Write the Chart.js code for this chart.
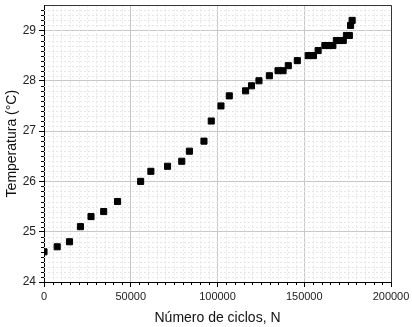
<!DOCTYPE html>
<html>
<head>
<meta charset="utf-8">
<script src="https://cdn.jsdelivr.net/npm/chart.js@4/dist/chart.umd.min.js"></script>
<style>
  html, body { margin: 0; padding: 0; background: #fff; }
</style>
</head>
<body>
<canvas id="chart" width="412" height="327"></canvas>
<script>
// cycles (N) and temperature (°C)
const cycles = [0, 7600, 14700, 21000, 27100, 34400, 42400, 55700, 61600, 71200,
  79400, 83800, 92200, 96400, 102000, 106800, 116200, 119600, 123900, 129900,
  134900, 137800, 140800, 146000, 152300, 155300, 158000, 161900, 164200, 166500,
  168500, 170500, 172500, 174300, 176000, 176700, 177600];
const temps = [24.6, 24.7, 24.8, 25.1, 25.3, 25.4, 25.6, 26.0, 26.2, 26.3,
  26.4, 26.6, 26.8, 27.2, 27.5, 27.7, 27.8, 27.9, 28.0, 28.1,
  28.2, 28.2, 28.3, 28.4, 28.5, 28.5, 28.6, 28.7, 28.7, 28.7,
  28.8, 28.8, 28.8, 28.9, 28.9, 29.1, 29.2];

const xRange = [0, 200000];
const yRange = [24, 29.5];
const xMajor = 50000, xMinor = 5000;
const yMajor = 1, yMinor = 0.1;

const FONT = 'Arial, "Liberation Sans", sans-serif';

/*
 * minor grid (dashed), minor ticks and the box around the plot
 */
const minorGrid = {
  id: 'minorGrid',
  beforeDatasetsDraw(chart) {
    const { ctx, chartArea: a, scales: { x, y } } = chart;
    ctx.save();
    ctx.strokeStyle = '#e6e6e6';
    ctx.lineWidth = 1;
    ctx.setLineDash([2, 2]);
    ctx.beginPath();
    const nx = Math.round((x.max - x.min) / xMinor);
    for (let i = 1; i < nx; i++) {
      if (i % (xMajor / xMinor) === 0) continue;
      const px = Math.round(x.getPixelForValue(x.min + i * xMinor)) + 0.5;
      ctx.moveTo(px, a.top);
      ctx.lineTo(px, a.bottom);
    }
    const ny = Math.round((y.max - y.min) / yMinor);
    for (let i = 1; i < ny; i++) {
      if (i % Math.round(yMajor / yMinor) === 0) continue;
      const py = Math.round(y.getPixelForValue(y.min + i * yMinor)) + 0.5;
      ctx.moveTo(a.left, py);
      ctx.lineTo(a.right, py);
    }
    ctx.stroke();
    ctx.restore();
  },
  afterDraw(chart) {
    const { ctx, chartArea: a, scales: { x, y } } = chart;
    ctx.save();
    ctx.strokeStyle = '#000';
    ctx.lineWidth = 1;
    ctx.beginPath();
    const nx = Math.round((x.max - x.min) / xMinor);
    for (let i = 1; i < nx; i++) {
      if (i % (xMajor / xMinor) === 0) continue;
      const px = Math.round(x.getPixelForValue(x.min + i * xMinor)) + 0.5;
      ctx.moveTo(px, a.bottom);
      ctx.lineTo(px, a.bottom + 3);
    }
    const ny = Math.round((y.max - y.min) / yMinor);
    for (let i = 1; i < ny; i++) {
      if (i % Math.round(yMajor / yMinor) === 0) continue;
      const py = Math.round(y.getPixelForValue(y.min + i * yMinor)) + 0.5;
      ctx.moveTo(a.left - 3, py);
      ctx.lineTo(a.left, py);
    }
    ctx.stroke();
    // top and right edges of the frame
    ctx.strokeStyle = '#333';
    ctx.beginPath();
    ctx.moveTo(Math.round(a.left) + 0.5, Math.round(a.top) + 0.5);
    ctx.lineTo(Math.round(a.right) + 0.5, Math.round(a.top) + 0.5);
    ctx.lineTo(Math.round(a.right) + 0.5, Math.round(a.bottom) + 0.5);
    ctx.stroke();
    ctx.restore();
  }
};

new Chart(document.getElementById('chart'), {
  type: 'scatter',
  data: {
    datasets: [{
      data: cycles.map((c, i) => ({ x: c, y: temps[i] })),
      pointStyle: 'rect',
      pointRadius: 4.3,
      backgroundColor: '#000',
      borderColor: '#000',
      borderWidth: 1
    }]
  },
  plugins: [minorGrid],
  options: {
    responsive: false,
    animation: false,
    layout: { padding: { top: 4, right: 21, left: 0, bottom: 0 } },
    plugins: { legend: { display: false }, tooltip: { enabled: false } },
    scales: {
      x: {
        type: 'linear',
        min: xRange[0],
        max: xRange[1],
        ticks: {
          stepSize: xMajor,
          color: '#222',
          padding: 3,
          maxRotation: 0,
          font: { family: FONT, size: 11 },
          callback: v => String(v)
        },
        grid: { color: '#c8c8c8', tickColor: '#000', tickLength: 5 },
        border: { color: '#000', width: 1 },
        title: {
          display: true,
          text: 'Número de ciclos, N',
          color: '#111',
          font: { family: FONT, size: 14 },
          padding: { top: 2, bottom: 0 }
        },
        afterFit(s) { s.height = 45; s.paddingLeft = 0; s.paddingRight = 0; }
      },
      y: {
        min: yRange[0],
        max: yRange[1],
        ticks: {
          stepSize: yMajor,
          includeBounds: false,
          color: '#222',
          padding: 3,
          font: { family: FONT, size: 12 },
          callback: v => String(v)
        },
        grid: { color: '#c8c8c8', tickColor: '#000', tickLength: 5 },
        border: { color: '#000', width: 1 },
        title: {
          display: true,
          text: 'Temperatura (°C)',
          color: '#111',
          font: { family: FONT, size: 14 },
          padding: { top: 4, bottom: 4 }
        },
        afterFit(s) { s.width = 44; s.paddingTop = 0; s.paddingBottom = 0; }
      }
    }
  }
});
</script>
</body>
</html>
